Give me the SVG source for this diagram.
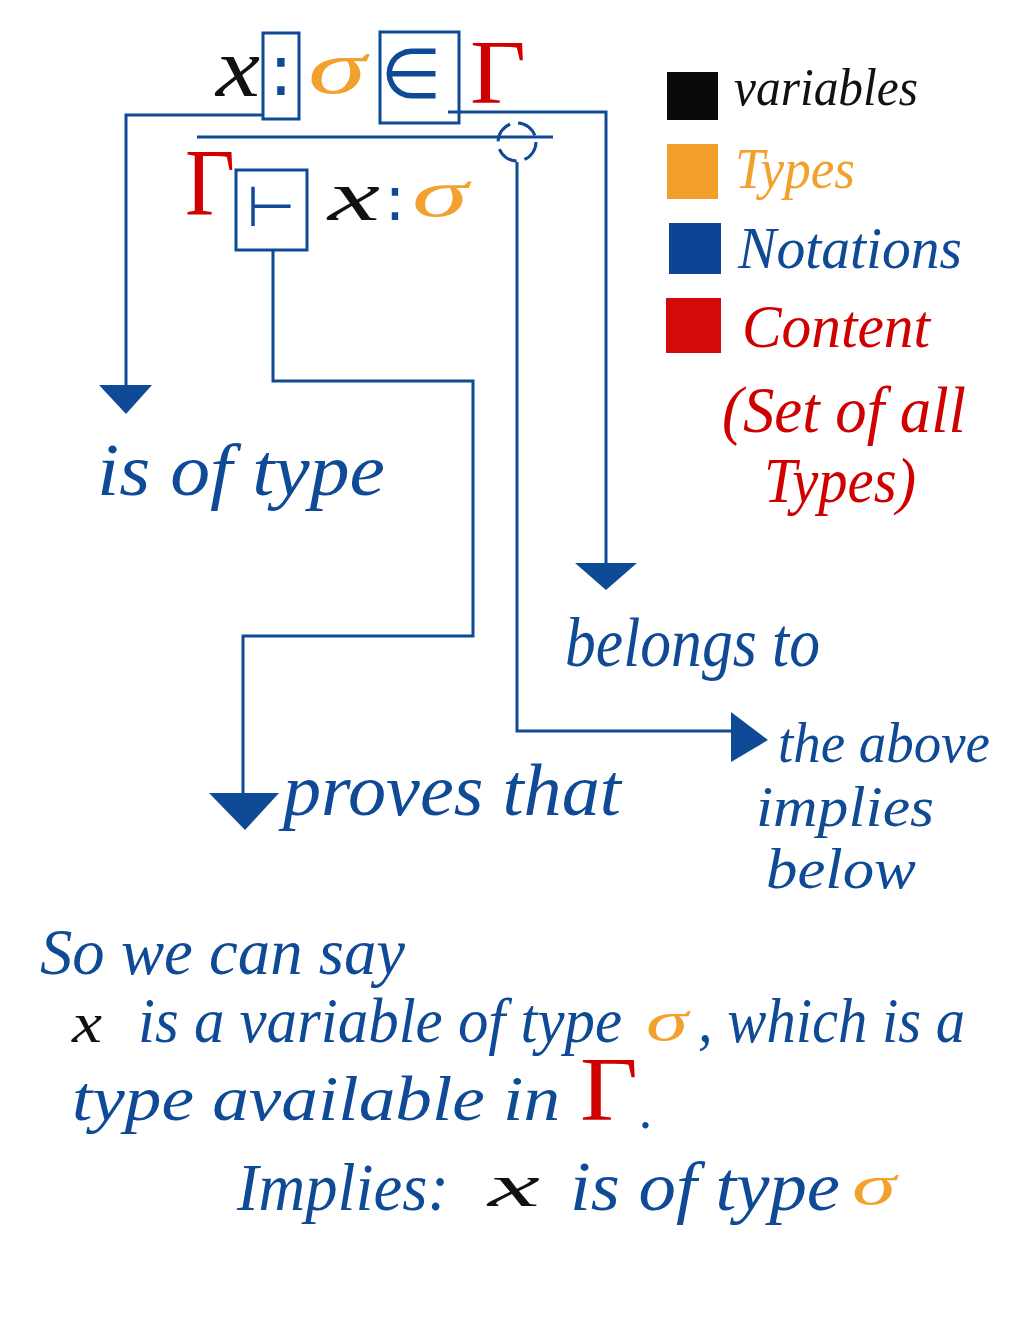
<svg xmlns="http://www.w3.org/2000/svg" width="1035" height="1337" viewBox="0 0 1035 1337">
  <style>
    .hand { font-family: "Liberation Serif", "DejaVu Serif", serif; font-style: italic; }
    .sym { font-family: "DejaVu Sans", "Liberation Sans", sans-serif; }
    .gam { font-family: "Liberation Serif", "DejaVu Serif", serif; font-style: normal; fill: #d00000; }
    .blue { fill: #0f4a96; }
    .black { fill: #111111; }
    .orange { fill: #f2a02e; }
    .red { fill: #d00000; }
    .box { fill: none; stroke: #0f4a96; stroke-width: 3; }
    .wire { fill: none; stroke: #0f4a96; stroke-width: 3; }
    .head { fill: #0f4a96; }
  </style>

  <rect width="1035" height="1337" fill="#ffffff"/>

  <!-- premise: x : sigma in Gamma -->
  <g id="premise">
    <text class="hand black" x="216" y="96" font-size="84" textLength="44" lengthAdjust="spacingAndGlyphs">x</text>
    <rect class="box" x="263" y="33" width="36" height="86"/>
    <text class="sym blue" x="281" y="95" font-size="72" text-anchor="middle">:</text>
    <text class="hand orange" x="308" y="93" font-size="76" textLength="58" lengthAdjust="spacingAndGlyphs">σ</text>
    <rect class="box" x="380" y="32" width="79" height="91"/>
    <text class="sym blue" x="411" y="98" font-size="70" text-anchor="middle">∈</text>
    <text class="gam" x="470" y="103" font-size="92" textLength="56" lengthAdjust="spacingAndGlyphs">Γ</text>
  </g>

  <!-- conclusion: Gamma |- x : sigma -->
  <g id="conclusion">
    <text class="gam" x="185" y="215" font-size="96" textLength="50" lengthAdjust="spacingAndGlyphs">Γ</text>
    <rect class="box" x="236" y="170" width="71" height="80"/>
    <text class="sym blue" x="271" y="226" font-size="56" text-anchor="middle">⊢</text>
    <text class="hand black" x="328" y="220" font-size="72" textLength="52" lengthAdjust="spacingAndGlyphs">x</text>
    <text class="sym blue" x="395" y="220" font-size="62" text-anchor="middle">:</text>
    <text class="hand orange" x="412" y="216" font-size="68" textLength="56" lengthAdjust="spacingAndGlyphs">σ</text>
  </g>

  <!-- inference bar and its marker circle -->
  <g id="inference-bar">
    <line class="wire" x1="197" y1="137" x2="553" y2="137"/>
    <circle class="wire" cx="517" cy="142" r="19" stroke-dasharray="22 8"/>
  </g>

  <!-- connectors -->
  <g id="connectors">
    <polyline class="wire" points="262,115 126,115 126,388"/>
    <polygon class="head" points="99,385 152,385 126,414"/>

    <polyline class="wire" points="448,112 606,112 606,566"/>
    <polygon class="head" points="575,563 637,563 606,590"/>

    <polyline class="wire" points="273,250 273,381 473,381 473,636 243,636 243,796"/>
    <polygon class="head" points="209,793 279,793 245,830"/>

    <polyline class="wire" points="517,162 517,731 734,731"/>
    <polygon class="head" points="731,712 731,762 768,740"/>
  </g>

  <!-- connector labels -->
  <g id="label-is-of-type">
    <text class="hand blue" x="97" y="495" font-size="74" textLength="288" lengthAdjust="spacingAndGlyphs">is of type</text>
  </g>
  <g id="label-belongs-to">
    <text class="hand blue" x="565" y="666" font-size="70" textLength="255" lengthAdjust="spacingAndGlyphs">belongs to</text>
  </g>
  <g id="label-proves-that">
    <text class="hand blue" x="283" y="815" font-size="74" textLength="338" lengthAdjust="spacingAndGlyphs">proves that</text>
  </g>
  <g id="label-implies">
    <text class="hand blue" x="778" y="762" font-size="58" textLength="212" lengthAdjust="spacingAndGlyphs">the above</text>
    <text class="hand blue" x="756" y="826" font-size="56" textLength="178" lengthAdjust="spacingAndGlyphs">implies</text>
    <text class="hand blue" x="766" y="888" font-size="56" textLength="150" lengthAdjust="spacingAndGlyphs">below</text>
  </g>

  <!-- colour legend -->
  <g id="legend">
    <rect x="667" y="72" width="51" height="48" fill="#0a0a0a"/>
    <text class="hand black" x="734" y="105" font-size="52" textLength="184" lengthAdjust="spacingAndGlyphs">variables</text>
    <rect x="667" y="144" width="51" height="55" fill="#f29e2a"/>
    <text class="hand orange" x="735" y="188" font-size="56" textLength="120" lengthAdjust="spacingAndGlyphs">Types</text>
    <rect x="669" y="223" width="52" height="51" fill="#0d4594"/>
    <text class="hand blue" x="738" y="268" font-size="60" textLength="224" lengthAdjust="spacingAndGlyphs">Notations</text>
    <rect x="666" y="298" width="55" height="55" fill="#d40a0a"/>
    <text class="hand red" x="742" y="347" font-size="62" textLength="188" lengthAdjust="spacingAndGlyphs">Content</text>
    <text class="hand red" x="722" y="432" font-size="66" textLength="244" lengthAdjust="spacingAndGlyphs">(Set of all</text>
    <text class="hand red" x="764" y="502" font-size="64" textLength="152" lengthAdjust="spacingAndGlyphs">Types)</text>
  </g>

  <!-- summary paragraph -->
  <g id="summary">
    <text class="hand blue" x="40" y="974" font-size="66" textLength="365" lengthAdjust="spacingAndGlyphs">So we can say</text>

    <text class="hand black" x="72" y="1042" font-size="56" textLength="30" lengthAdjust="spacingAndGlyphs">x</text>
    <text class="hand blue" x="138" y="1042" font-size="64" textLength="484" lengthAdjust="spacingAndGlyphs">is a variable of type</text>
    <text class="hand orange" x="646" y="1040" font-size="58" textLength="42" lengthAdjust="spacingAndGlyphs">σ</text>
    <text class="hand blue" x="698" y="1042" font-size="64" textLength="267" lengthAdjust="spacingAndGlyphs">, which is a</text>

    <text class="hand blue" x="72" y="1120" font-size="64" textLength="488" lengthAdjust="spacingAndGlyphs">type available in</text>
    <text class="gam" x="580" y="1120" font-size="90" textLength="58" lengthAdjust="spacingAndGlyphs">Γ</text>
    <text class="hand blue" x="640" y="1128" font-size="54">.</text>

    <text class="hand blue" x="237" y="1210" font-size="68" textLength="212" lengthAdjust="spacingAndGlyphs">Implies:</text>
    <text class="hand black" x="488" y="1206" font-size="62" textLength="52" lengthAdjust="spacingAndGlyphs">x</text>
    <text class="hand blue" x="570" y="1210" font-size="70" textLength="270" lengthAdjust="spacingAndGlyphs">is of type</text>
    <text class="hand orange" x="852" y="1204" font-size="58" textLength="44" lengthAdjust="spacingAndGlyphs">σ</text>
  </g>
</svg>
